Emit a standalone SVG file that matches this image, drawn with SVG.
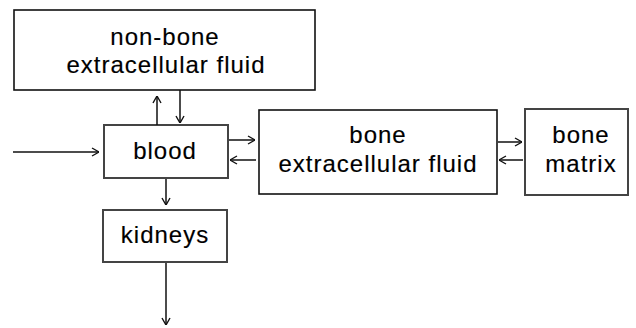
<svg xmlns="http://www.w3.org/2000/svg" width="636" height="328" viewBox="0 0 636 328">
<defs>
<marker id="ah" viewBox="0 0 10 10" refX="10" refY="5" markerWidth="10" markerHeight="10" markerUnits="userSpaceOnUse" orient="auto">
<path d="M3,1 L10,5 L3,9" fill="none" stroke="#111" stroke-width="1.4"/>
</marker>
</defs>
<style>
.box{fill:#fff;stroke:#111;stroke-width:1.6}
.gbox{fill:#fff;stroke:#444;stroke-width:2}
.t{font-family:"Liberation Sans",Arial,sans-serif;font-size:24px;letter-spacing:1px;fill:#000;stroke:#000;stroke-width:0.15;text-anchor:middle}
.c{fill:none;stroke:#111;stroke-width:1.5;marker-end:url(#ah)}
</style>
<rect width="636" height="328" fill="#fff"/>
<g id="nonbone">
<rect class="box" x="14" y="10" width="301" height="80"/>
<text class="t" x="165" y="45">non-bone</text>
<text class="t" x="166" y="73">extracellular fluid</text>
</g>
<g id="blood">
<rect class="gbox" x="104" y="125" width="124" height="53"/>
<text class="t" x="165" y="159">blood</text>
</g>
<g id="bonefluid">
<rect class="box" x="259" y="110" width="238" height="84"/>
<text class="t" x="378" y="143">bone</text>
<text class="t" x="378" y="172">extracellular fluid</text>
</g>
<g id="bonematrix">
<rect class="gbox" x="525" y="109" width="103" height="86"/>
<text class="t" x="581" y="143">bone</text>
<text class="t" x="581" y="172">matrix</text>
</g>
<g id="kidneys">
<rect class="gbox" x="103" y="210" width="124" height="52"/>
<text class="t" x="165" y="243">kidneys</text>
</g>
<g id="connectors">
<line class="c" x1="13" y1="152" x2="99" y2="152"/>
<line class="c" x1="157" y1="125" x2="157" y2="96"/>
<line class="c" x1="180" y1="90" x2="180" y2="123"/>
<line class="c" x1="229" y1="140" x2="255" y2="140"/>
<line class="c" x1="256" y1="160" x2="230" y2="160"/>
<line class="c" x1="498" y1="142" x2="522" y2="142"/>
<line class="c" x1="523" y1="160" x2="499" y2="160"/>
<line class="c" x1="166" y1="179" x2="166" y2="205"/>
<line class="c" x1="166" y1="263" x2="166" y2="325"/>
</g>
</svg>
